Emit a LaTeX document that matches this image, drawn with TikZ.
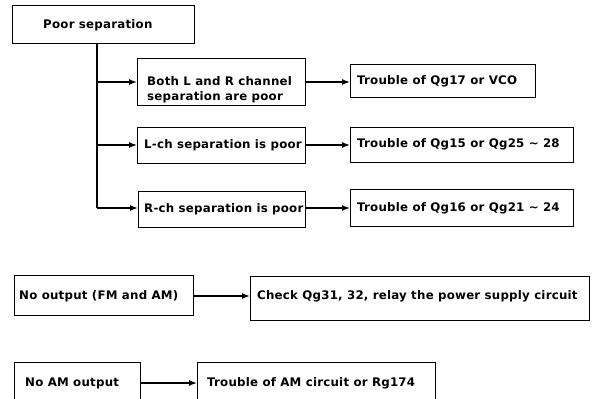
\documentclass[tikz,border=0pt]{standalone}
\usepackage{fontspec}
\setmainfont[LetterSpace=2]{DejaVu Sans}
\usetikzlibrary{arrows.meta}
\begin{document}
\begin{tikzpicture}[x=1pt,y=-1pt,
  box/.style={draw=black,line width=1.4pt,inner sep=0pt},
  txt/.style={anchor=west,inner sep=0pt,align=left,font=\fontsize{11.8}{15}\selectfont\bfseries},
  conn/.style={line width=1.4pt},
  arr/.style={line width=1.4pt,-{Latex[length=8pt,width=6pt]}}]
\useasboundingbox (0,0) rectangle (598,399);
\clip (0,0) rectangle (598,399);
% boxes
\node[box,minimum width=182pt,minimum height=38pt,anchor=north west] (A) at (12,5) {};
\node[box,minimum width=168pt,minimum height=47pt,anchor=north west] (B) at (137,58) {};
\node[box,minimum width=185pt,minimum height=33pt,anchor=north west] (C) at (350,64) {};
\node[box,minimum width=168pt,minimum height=36pt,anchor=north west] (D) at (137,127) {};
\node[box,minimum width=223pt,minimum height=35pt,anchor=north west] (E) at (350,127) {};
\node[box,minimum width=167pt,minimum height=36pt,anchor=north west] (F) at (138,191) {};
\node[box,minimum width=223pt,minimum height=37pt,anchor=north west] (G) at (350,189) {};
\node[box,minimum width=179pt,minimum height=40pt,anchor=north west] (H) at (14,275) {};
\node[box,minimum width=339pt,minimum height=44pt,anchor=north west] (I) at (250,276) {};
\node[box,minimum width=126pt,minimum height=44pt,anchor=north west] (J) at (14,362) {};
\node[box,minimum width=238pt,minimum height=44pt,anchor=north west] (K) at (197,362) {};
% texts
\node[txt] (tA) at (43,25) {Poor separation};
\node[txt] (tB) at (147,89.5) {Both L and R channel\\separation are poor};
\node[txt] (tC) at (357,81) {Trouble of Qg17 or VCO};
\node[txt] (tD) at (144,145) {L-ch separation is poor};
\node[txt] (tE) at (357,144) {Trouble of Qg15 or Qg25 \char"223C{} 28};
\node[txt] (tF) at (144,209) {R-ch separation is poor};
\node[txt] (tG) at (357,208) {Trouble of Qg16 or Qg21 \char"223C{} 24};
\node[txt] (tH) at (19,296) {No output (FM and AM)};
\node[txt] (tI) at (257,296) {Check Qg31, 32, relay the power supply circuit};
\node[txt] (tJ) at (25,383) {No AM output};
\node[txt] (tK) at (207,383) {Trouble of AM circuit or Rg174};
% junctions
\coordinate (j0) at (97,43);
\coordinate (j1) at (97,82);
\coordinate (j2) at (97,145);
\coordinate (j3) at (97,208);
% connectors
\draw[conn] (j0) -- (j3);
\draw[arr] (j1) -- (j1 -| B.west);
\draw[arr] (j2) -- (j2 -| D.west);
\draw[arr] (j3) -- (j3 -| F.west);
\draw[arr] (B.east |- j1) -- (j1 -| C.west);
\draw[arr] (D.east |- j2) -- (j2 -| E.west);
\draw[arr] (F.east |- j3) -- (j3 -| G.west);
\coordinate (k1) at (0,296);
\coordinate (k2) at (0,383);
\draw[arr] (H.east |- k1) -- (k1 -| I.west);
\draw[arr] (J.east |- k2) -- (k2 -| K.west);
\end{tikzpicture}
\end{document}
